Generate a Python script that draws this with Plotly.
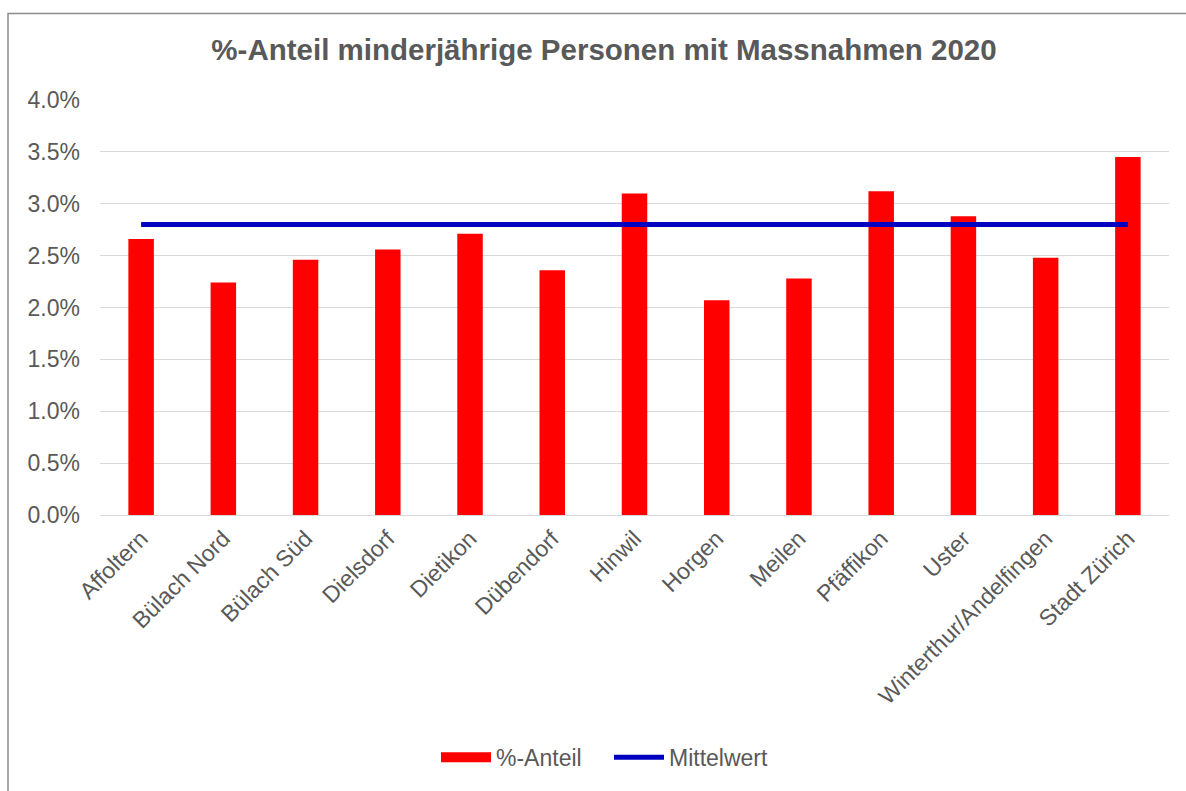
import plotly.graph_objects as go

categories = ["Affoltern", "Bülach Nord", "Bülach Süd", "Dielsdorf", "Dietikon",
              "Dübendorf", "Hinwil", "Horgen", "Meilen", "Pfäffikon", "Uster",
              "Winterthur/Andelfingen", "Stadt Zürich"]
anteil = [0.0266, 0.0224, 0.0246, 0.0256, 0.0271, 0.0236, 0.0310, 0.0207,
          0.0228, 0.0312, 0.0288, 0.0248, 0.0345]
mittelwert = [0.0280] * 13

title = "%-Anteil minderjährige Personen mit Massnahmen 2020"
grey = "#595959"
font = "Liberation Sans, Arial, sans-serif"

fig = go.Figure()
fig.add_trace(go.Bar(x=categories, y=anteil, name="%-Anteil", showlegend=False,
                     legendgroup="a",
                     marker=dict(color="#FF0000", line=dict(width=0))))
# legend entry for the bars (wide red swatch)
fig.add_trace(go.Scatter(x=[None], y=[None], name="%-Anteil", mode="lines",
                         legendgroup="a",
                         line=dict(color="#FF0000", width=13)))
fig.add_trace(go.Scatter(x=categories, y=mittelwert, name="Mittelwert",
                         mode="lines", line=dict(color="#0000C0", width=5)))

fig.update_layout(
    width=1186, height=791,
    paper_bgcolor="white", plot_bgcolor="white",
    margin=dict(l=100, r=17, t=100, b=273),
    font=dict(family=font, color=grey, size=23),
    title=dict(text="<b>" + title + "</b>", xref="paper",
               x=(604 - 100) / 1069, xanchor="center",
               y=1 - 50 / 791, yanchor="middle",
               font=dict(size=29.5, color=grey, family=font)),
    bargap=0.69,
    showlegend=True,
    legend=dict(orientation="h", x=(436 - 100) / 1069, xanchor="left",
                y=(518 - 762) / 418, yanchor="middle", itemwidth=50,
                entrywidth=108,
                font=dict(size=23, color=grey), traceorder="normal"),
    xaxis=dict(tickangle=-45, showgrid=False, showline=True, automargin=False,
               linecolor="#D9D9D9", linewidth=1, ticks="",
               tickfont=dict(size=23, color=grey)),
    yaxis=dict(range=[0, 0.04], dtick=0.005, tickformat=".1%", automargin=False,
               showgrid=True, gridcolor="#D9D9D9", gridwidth=1,
               zeroline=False, showline=False, ticks="",
               tickfont=dict(size=23, color=grey), ticklabelstandoff=19),
    shapes=[dict(type="rect", xref="paper", yref="paper",
                 x0=(8 - 100) / 1069, x1=(1200 - 100) / 1069,
                 y0=(518 - 810) / 418, y1=(518 - 13) / 418,
                 line=dict(color="#8C8C8C", width=1.5), layer="below")],
)

fig.write_html("out.html", config={"displayModeBar": False},
               post_script="document.body.style.margin='0';document.body.style.overflow='hidden';")
